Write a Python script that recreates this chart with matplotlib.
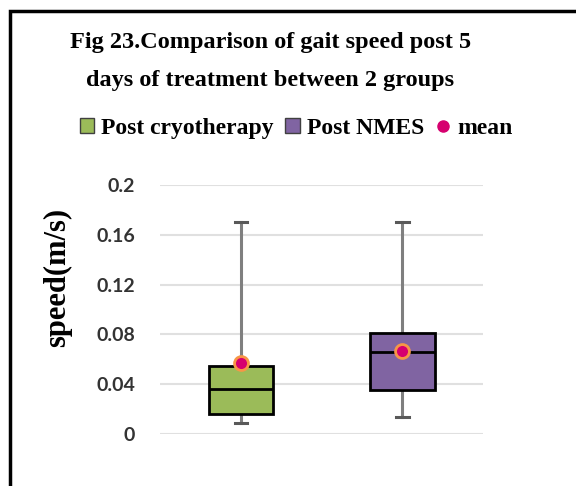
import matplotlib.pyplot as plt
from matplotlib.patches import Patch, Rectangle
from matplotlib.lines import Line2D

# Data (speed in m/s)
groups = ['Post cryotherapy', 'Post NMES']
whisker_low = [0.009, 0.014]
q1 = [0.016, 0.035]
median = [0.036, 0.066]
q3 = [0.055, 0.081]
whisker_high = [0.170, 0.170]
means = [0.057, 0.067]
y_ticks = [0, 0.04, 0.08, 0.12, 0.16, 0.2]
y_tick_labels = ['0', '0.04', '0.08', '0.12', '0.16', '0.2']

box_colors = ['#9BBB59', '#8064A2']

fig = plt.figure(figsize=(5.76, 4.86), dpi=100)
ax = fig.add_axes([0.278, 0.107, 0.561, 0.512])

stats = []
for i in range(len(groups)):
    stats.append({'label': groups[i], 'whislo': whisker_low[i], 'q1': q1[i],
                  'med': median[i], 'q3': q3[i], 'whishi': whisker_high[i],
                  'mean': means[i]})

bp = ax.bxp(stats, positions=[0.5, 1.5], widths=0.4, patch_artist=True,
            showmeans=True, showfliers=False, capwidths=0.075,
            boxprops=dict(edgecolor='black', linewidth=2),
            medianprops=dict(color='black', linewidth=2),
            whiskerprops=dict(color='#7f7f7f', linewidth=2.2),
            capprops=dict(color='#595959', linewidth=2.2),
            meanprops=dict(marker='o', markerfacecolor='#D6006F',
                           markeredgecolor='#F79646', markeredgewidth=2,
                           markersize=10))
for patch, c in zip(bp['boxes'], box_colors):
    patch.set_facecolor(c)
for w in bp['whiskers']:
    w.set_zorder(1)

ax.set_xlim(0, 2)
ax.set_ylim(0, 0.2)
ax.set_yticks(y_ticks)
ax.set_yticklabels(y_tick_labels, fontfamily='Lato', fontweight='bold',
                   fontsize=14, color='#333333')
ax.set_xticks([])
ax.tick_params(axis='y', length=0, pad=18)
ax.yaxis.grid(True, color='#e0e0e0', linewidth=1.5)
ax.set_axisbelow(True)
for s in ax.spines.values():
    s.set_visible(False)

fig.text(0.1, 0.43, 'speed(m/s)', rotation=90, ha='center', va='center',
         fontfamily='Liberation Serif', fontweight='bold', fontsize=22)

title_font = dict(ha='center', va='baseline', fontfamily='Liberation Serif',
                  fontweight='bold', fontsize=17.5)
fig.text(0.469, 0.901, 'Fig 23.Comparison of gait speed post 5', **title_font)
fig.text(0.469, 0.823, 'days of treatment between 2 groups', **title_font)

handles = [Patch(facecolor=box_colors[0], edgecolor='#404040'),
           Patch(facecolor=box_colors[1], edgecolor='#404040'),
           Line2D([], [], marker='o', linestyle='none', markerfacecolor='#D6006F',
                  markeredgecolor='#D6006F', markersize=8)]
fig.legend(handles, groups + ['mean'], loc='center', ncol=3,
           bbox_to_anchor=(0.514, 0.736), frameon=False,
           prop={'family': 'Liberation Serif', 'weight': 'bold', 'size': 17},
           handlelength=0.6, handleheight=0.6, handletextpad=0.3,
           columnspacing=0.5)

# outer chart frame (cut off at right and bottom)
fig.patches.append(Rectangle((0.017, -0.1), 1.2, 1.077, transform=fig.transFigure,
                             fill=False, edgecolor='black', linewidth=2.5))

fig.savefig('out.png', dpi=100)
